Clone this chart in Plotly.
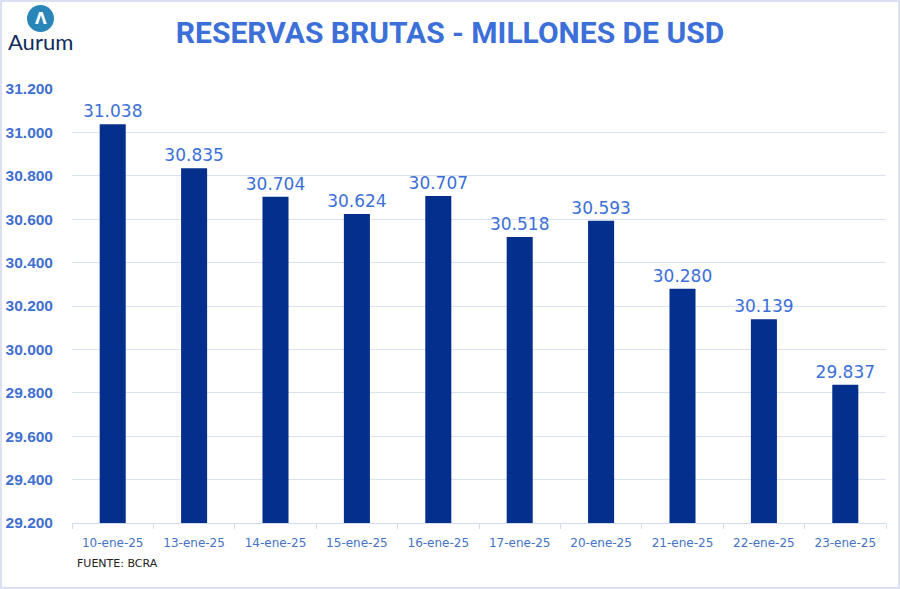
import plotly.graph_objects as go

categories = ["10-ene-25", "13-ene-25", "14-ene-25", "15-ene-25", "16-ene-25",
              "17-ene-25", "20-ene-25", "21-ene-25", "22-ene-25", "23-ene-25"]
reservas = [31038, 30835, 30704, 30624, 30707, 30518, 30593, 30280, 30139, 29837]
y_ticks = [29200, 29400, 29600, 29800, 30000, 30200, 30400, 30600, 30800, 31000, 31200]

W, H = 900, 589
ml, mr, mt, mb = 72, 14, 89, 66
pw, ph = W - ml - mr, H - mt - mb

def px_x(x):
    return (x - ml) / pw

def px_y(y):
    return (H - mb - y) / ph

fig = go.Figure()
fig.add_trace(go.Bar(
    x=categories, y=reservas,
    marker=dict(color="#042F8C", line=dict(width=0)),
    width=0.32,
    texttemplate="%{y:,.0f}", textposition="outside",
    constraintext="none",
    textfont=dict(color="#3C6FD8", size=17, family="DejaVu Sans"),
    cliponaxis=False,
))

fig.update_layout(
    width=W, height=H,
    margin=dict(l=ml, r=mr, t=mt, b=mb),
    paper_bgcolor="white", plot_bgcolor="white",
    separators=",.",
    showlegend=False,
    title=dict(text="<b>RESERVAS BRUTAS - MILLONES DE USD</b>", x=0.5, xanchor="center",
               y=1 - 32 / H, yanchor="middle",
               font=dict(family="Roboto", size=30, color="#3C6FD8")),
    xaxis=dict(
        type="category", showgrid=False, automargin=False,
        showline=True, linecolor="#D0DAF0", linewidth=1,
        ticks="outside", tickson="boundaries", ticklen=5, tickcolor="#D0DAF0",
        ticklabelstandoff=9,
        tickfont=dict(color="#4472C4", size=12, family="DejaVu Sans"),
    ),
    yaxis=dict(
        range=[29200, 31200], tickvals=y_ticks, automargin=False,
        ticktext=["<b>" + f"{v:,}".replace(",", ".") + "</b>" for v in y_ticks],
        showgrid=True, gridcolor="#D9E1F2", gridwidth=1,
        zeroline=False, showline=False,
        ticklabelstandoff=18,
        tickfont=dict(color="#3F6FD0", size=15.5, family="Liberation Sans"),
    ),
)

# border around chart
fig.add_shape(type="rect", xref="paper", yref="paper",
              x0=px_x(1), x1=px_x(899), y0=px_y(588), y1=px_y(1),
              line=dict(color="#D0D8EE", width=1.5), fillcolor="rgba(0,0,0,0)")

# logo
fig.add_shape(type="circle", xref="paper", yref="paper",
              x0=px_x(27), x1=px_x(54), y0=px_y(32), y1=px_y(5),
              line=dict(width=0), fillcolor="#2A86B8")
fig.add_annotation(x=px_x(40.5), y=px_y(19), xref="paper", yref="paper",
                   text="<b>Λ</b>", showarrow=False, xanchor="center", yanchor="middle",
                   font=dict(color="white", size=15, family="DejaVu Sans"))
fig.add_annotation(x=px_x(40), y=px_y(42), xref="paper", yref="paper",
                   text="Aurum", showarrow=False, xanchor="center", yanchor="middle",
                   font=dict(color="#102B5C", size=22, family="Lato"))

fig.add_annotation(x=px_x(75), y=px_y(563), xref="paper", yref="paper",
                   text="FUENTE: BCRA", showarrow=False, xanchor="left", yanchor="middle",
                   font=dict(color="#222222", size=11, family="DejaVu Sans"))

fig.write_html("out.html", config={"displayModeBar": False},
               post_script="document.body.style.margin='0';")
